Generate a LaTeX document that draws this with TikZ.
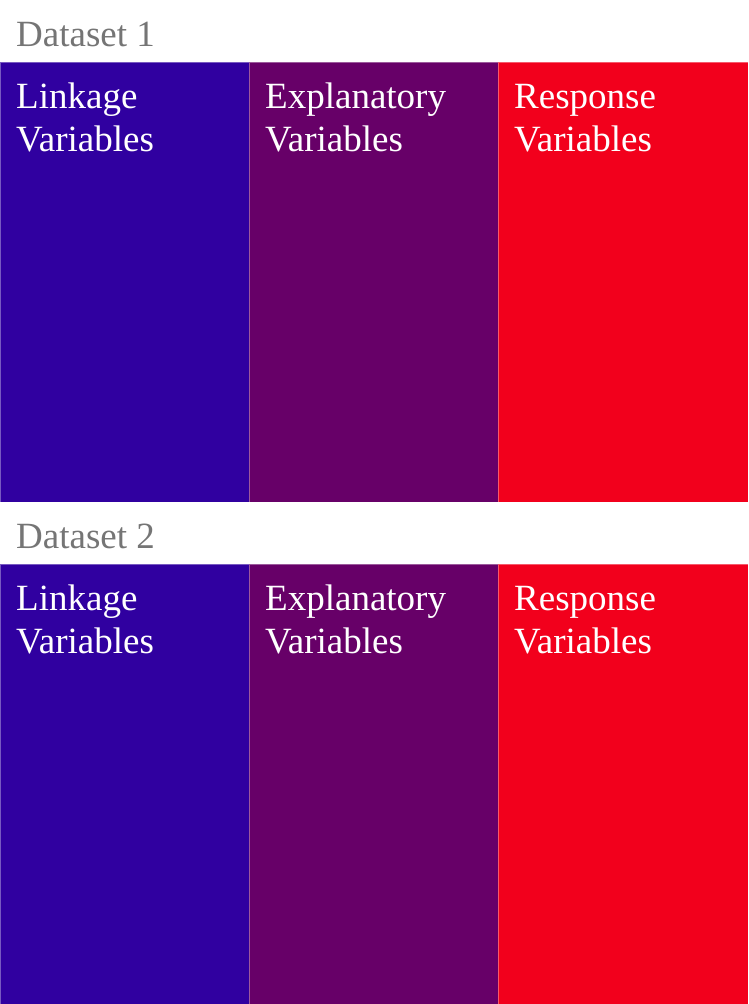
\documentclass[tikz,border=0pt]{standalone}
\usepackage{fontspec}
\setmainfont{Liberation Serif}
\definecolor{linkblue}{HTML}{3000A0}
\definecolor{explpurple}{HTML}{670068}
\definecolor{respred}{HTML}{F2001C}
\definecolor{titlegray}{HTML}{757575}
\begin{document}
\begin{tikzpicture}[x=1pt,y=-1pt,
  col/.style={draw=white,draw opacity=0.35,line width=0.8pt,inner sep=0pt,
    anchor=north west,minimum width=249pt,minimum height=440pt},
  lbl/.style={text=white,anchor=base west,inner sep=0pt,align=left,
    font=\fontsize{37}{43}\selectfont},
  ttl/.style={text=titlegray,anchor=base west,inner sep=0pt,
    font=\fontsize{37}{43}\selectfont}]
\useasboundingbox (0,0) rectangle (748,1004);
% Dataset 1 (labels anchored on the baseline of their last line)
\node[ttl] (t1) at (16,46) {Dataset 1};
\node[col,fill=linkblue] (a1) at (0,62) {};
\node[col,fill=explpurple] (b1) at (249,62) {};
\node[col,fill=respred,minimum width=250pt] (c1) at (498,62) {};
\node[lbl] (la1) at (16,151) {Linkage\\Variables};
\node[lbl] (lb1) at (265,151) {Explanatory\\Variables};
\node[lbl] (lc1) at (514,151) {Response\\Variables};
% Dataset 2
\node[ttl] (t2) at (16,548) {Dataset 2};
\node[col,fill=linkblue] (a2) at (0,564) {};
\node[col,fill=explpurple] (b2) at (249,564) {};
\node[col,fill=respred,minimum width=250pt] (c2) at (498,564) {};
\node[lbl] (la2) at (16,653) {Linkage\\Variables};
\node[lbl] (lb2) at (265,653) {Explanatory\\Variables};
\node[lbl] (lc2) at (514,653) {Response\\Variables};
\end{tikzpicture}
\end{document}
